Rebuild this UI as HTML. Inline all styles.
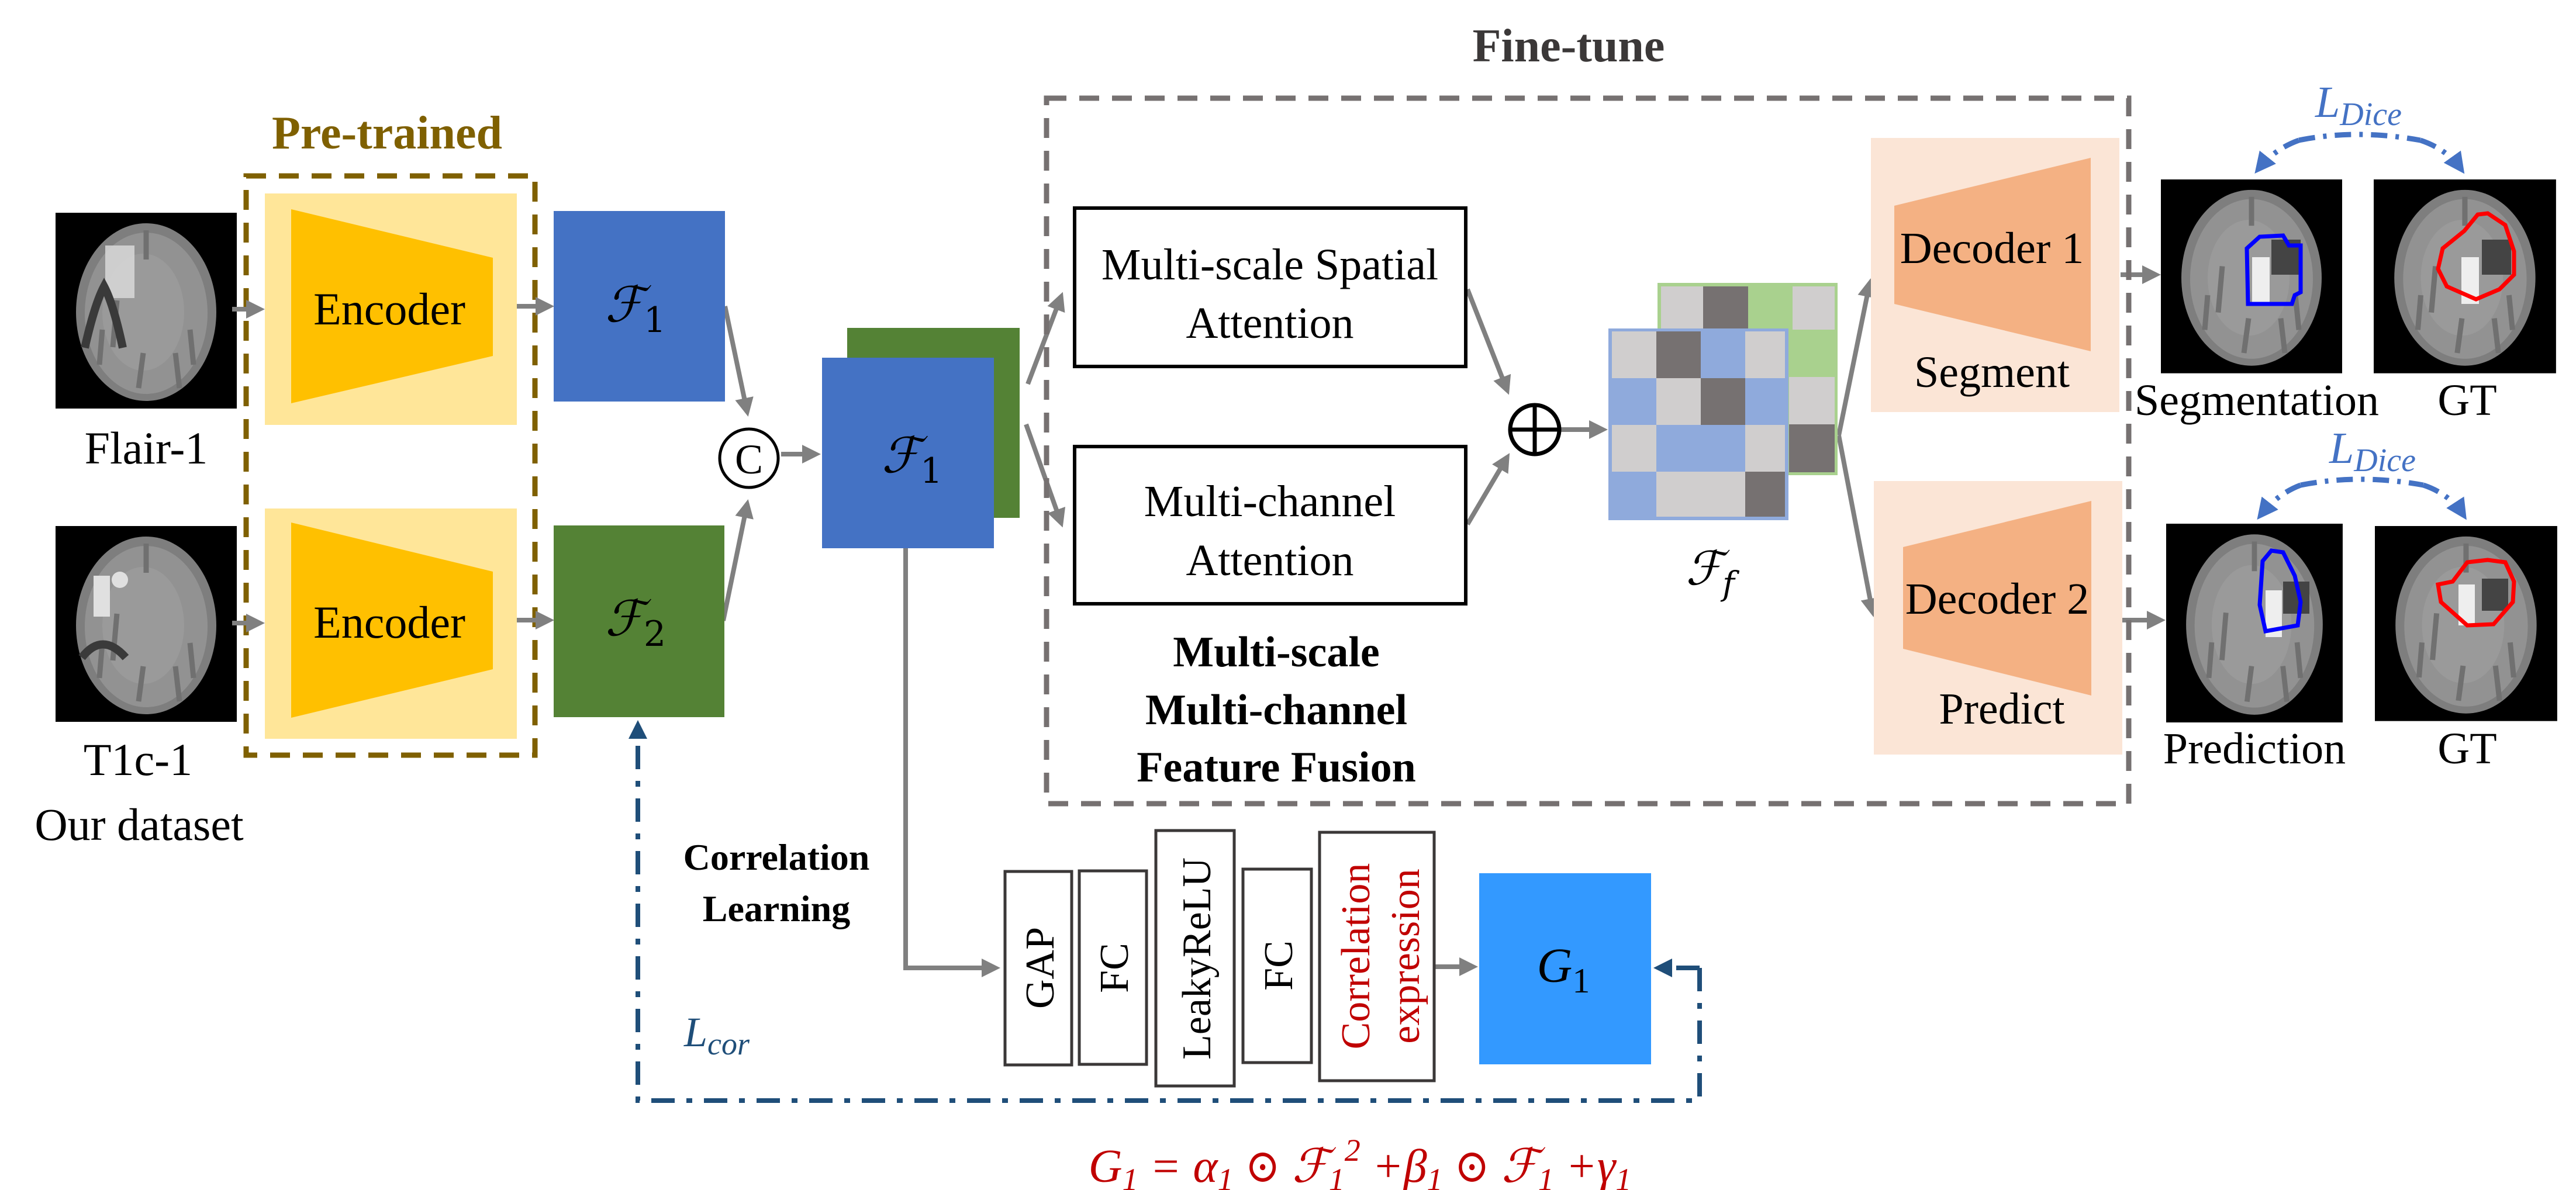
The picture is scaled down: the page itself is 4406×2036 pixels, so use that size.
<!DOCTYPE html>
<html><head><meta charset="utf-8"><style>
html,body{margin:0;padding:0;background:#fff;}
svg{display:block;font-family:"Liberation Serif","DejaVu Serif Condensed","DejaVu Serif",serif;}
svg text{font-family:"Liberation Serif","DejaVu Serif Condensed","DejaVu Serif",serif;}
svg text.dj, svg tspan.dj{font-family:"DejaVu Serif",serif;}
</style></head><body>
<svg width="4406" height="2036" viewBox="0 0 4406 2036" xmlns="http://www.w3.org/2000/svg">
<defs>
<marker id="ag" markerWidth="4" markerHeight="4" refX="3" refY="2" orient="auto" markerUnits="strokeWidth"><path d="M0,0 L4,2 L0,4 z" fill="#808080"/></marker>
<marker id="ab" markerWidth="4" markerHeight="4" refX="3" refY="2" orient="auto" markerUnits="strokeWidth"><path d="M0,0 L4,2 L0,4 z" fill="#1f4e79"/></marker>
<marker id="al" markerWidth="4" markerHeight="4" refX="3" refY="2" orient="auto" markerUnits="strokeWidth"><path d="M0,0 L4,2 L0,4 z" fill="#4472c4"/></marker>
<g id="brain">
<rect x="0" y="0" width="310" height="335" fill="#000"/>
<ellipse cx="155" cy="170" rx="120" ry="152" fill="#7e7e7e"/>
<ellipse cx="155" cy="172" rx="105" ry="138" fill="#929292"/>
<ellipse cx="150" cy="170" rx="70" ry="100" fill="#9a9a9a"/>
<path d="M105,150 L98,230 M150,240 L142,300 M205,240 L212,300 M155,30 L155,80 M80,200 L75,260 M230,200 L236,260" stroke="#707070" stroke-width="9" fill="none"/>
</g>
</defs>

<use href="#brain" x="95" y="364"/>
<rect x="180" y="420" width="50" height="90" fill="#d8d8d8" opacity="0.85"/>
<path d="M145,595 Q162,520 178,490 Q194,520 210,595" stroke="#3a3a3a" stroke-width="14" fill="none"/>
<use href="#brain" x="95" y="900"/>
<rect x="160" y="985" width="28" height="70" fill="#e0e0e0"/>
<circle cx="205" cy="992" r="14" fill="#e0e0e0"/>
<path d="M140,1125 Q175,1080 215,1125" stroke="#3a3a3a" stroke-width="14" fill="none"/>

<text x="250" y="793" font-size="78" text-anchor="middle">Flair-1</text>
<text x="236" y="1326" font-size="78" text-anchor="middle">T1c-1</text>
<text x="238" y="1437" font-size="78" text-anchor="middle">Our dataset</text>

<text x="662" y="254" font-size="80" font-weight="bold" text-anchor="middle" fill="#7f6000">Pre-trained</text>
<rect x="453" y="331" width="431" height="396" fill="#ffe699"/>
<rect x="453" y="870" width="431" height="394" fill="#ffe699"/>
<polygon points="498,358 843,441 843,609 498,690" fill="#ffc000"/>
<polygon points="498,894 843,978 843,1145 498,1228" fill="#ffc000"/>
<text x="666" y="555" font-size="78" text-anchor="middle">Encoder</text>
<text x="666" y="1091" font-size="78" text-anchor="middle">Encoder</text>
<rect x="421" y="301" width="494" height="991" fill="none" stroke="#7f6000" stroke-width="9" stroke-dasharray="34 22"/>

<g stroke="#808080" stroke-width="8" fill="none">
<line x1="397" y1="529" x2="445" y2="529" marker-end="url(#ag)"/>
<line x1="397" y1="1066" x2="445" y2="1066" marker-end="url(#ag)"/>
<line x1="884" y1="524" x2="940" y2="524" marker-end="url(#ag)"/>
<line x1="884" y1="1061" x2="940" y2="1061" marker-end="url(#ag)"/>
<line x1="1240" y1="524" x2="1278" y2="705" marker-end="url(#ag)"/>
<line x1="1237" y1="1062" x2="1278" y2="862" marker-end="url(#ag)"/>
<line x1="1336" y1="777" x2="1396" y2="777" marker-end="url(#ag)"/>
<line x1="1758" y1="657" x2="1815" y2="507" marker-end="url(#ag)"/>
<line x1="1755" y1="726" x2="1815" y2="895" marker-end="url(#ag)"/>
<line x1="2510" y1="495" x2="2578" y2="668" marker-end="url(#ag)"/>
<line x1="2510" y1="897" x2="2578" y2="782" marker-end="url(#ag)"/>
<line x1="2670" y1="735" x2="2742" y2="735" marker-end="url(#ag)"/>
<line x1="3145" y1="745" x2="3198" y2="484" marker-end="url(#ag)"/>
<line x1="3145" y1="745" x2="3203" y2="1048" marker-end="url(#ag)"/>
<line x1="3627" y1="470" x2="3688" y2="470" marker-end="url(#ag)"/>
<line x1="3621" y1="1061" x2="3696" y2="1061" marker-end="url(#ag)"/>
<polyline points="1549,938 1549,1656 1703,1656" marker-end="url(#ag)"/>
<line x1="2453" y1="1654" x2="2520" y2="1654" marker-end="url(#ag)"/>
</g>

<rect x="947" y="361" width="293" height="326" fill="#4472c4"/>
<rect x="947" y="899" width="292" height="328" fill="#548235"/>
<text x="1087" y="550" font-size="84" font-style="italic" text-anchor="middle" class="dj">ℱ<tspan font-size="60" dy="18" font-style="normal">1</tspan></text>
<text x="1087" y="1087" font-size="84" font-style="italic" text-anchor="middle" class="dj">ℱ<tspan font-size="60" dy="18" font-style="normal">2</tspan></text>
<circle cx="1281" cy="784" r="50" fill="#fff" stroke="#000" stroke-width="5"/>
<text x="1281" y="810" font-size="72" text-anchor="middle">C</text>

<rect x="1449" y="561" width="295" height="325" fill="#548235"/>
<rect x="1406" y="612" width="294" height="326" fill="#4472c4"/>
<text x="1560" y="808" font-size="84" font-style="italic" text-anchor="middle" class="dj">ℱ<tspan font-size="60" dy="18" font-style="normal">1</tspan></text>

<text x="2683" y="105" font-size="80" font-weight="bold" text-anchor="middle" fill="#3b3838">Fine-tune</text>
<rect x="1790" y="168" width="1851" height="1207" fill="none" stroke="#767171" stroke-width="9" stroke-dasharray="34 22"/>
<rect x="1838" y="356" width="669" height="271" fill="#fff" stroke="#000" stroke-width="6"/>
<rect x="1838" y="764" width="669" height="269" fill="#fff" stroke="#000" stroke-width="6"/>
<text x="2172" y="478" font-size="76" text-anchor="middle">Multi-scale Spatial</text>
<text x="2172" y="578" font-size="76" text-anchor="middle">Attention</text>
<text x="2172" y="883" font-size="76" text-anchor="middle">Multi-channel</text>
<text x="2172" y="984" font-size="76" text-anchor="middle">Attention</text>
<text x="2183" y="1140" font-size="74" font-weight="bold" text-anchor="middle">Multi-scale</text>
<text x="2183" y="1239" font-size="74" font-weight="bold" text-anchor="middle">Multi-channel</text>
<text x="2183" y="1337" font-size="74" font-weight="bold" text-anchor="middle">Feature Fusion</text>

<circle cx="2625" cy="735" r="42" fill="#fff" stroke="#000" stroke-width="7"/>
<line x1="2583" y1="735" x2="2667" y2="735" stroke="#000" stroke-width="7"/>
<line x1="2625" y1="693" x2="2625" y2="777" stroke="#000" stroke-width="7"/>

<rect x="2837" y="486" width="304" height="325" fill="#a9d18e" stroke="#a9d18e" stroke-width="4"/>
<rect x="2841" y="490" width="72" height="74" fill="#d0cece"/>
<rect x="2913" y="490" width="77" height="74" fill="#767171"/>
<rect x="3066" y="490" width="72" height="74" fill="#d0cece"/>
<rect x="3060" y="645" width="78" height="81" fill="#d0cece"/>
<rect x="3060" y="726" width="78" height="82" fill="#767171"/>
<rect x="2753" y="564" width="304" height="324" fill="#8faadc" stroke="#8faadc" stroke-width="4"/>
<rect x="2757" y="567" width="76" height="80" fill="#d0cece"/>
<rect x="2833" y="567" width="76" height="80" fill="#767171"/>
<rect x="2985" y="567" width="68" height="80" fill="#d0cece"/>
<rect x="2833" y="647" width="76" height="80" fill="#d0cece"/>
<rect x="2909" y="647" width="76" height="80" fill="#767171"/>
<rect x="2757" y="727" width="76" height="80" fill="#d0cece"/>
<rect x="2985" y="727" width="68" height="80" fill="#d0cece"/>
<rect x="2833" y="807" width="152" height="77" fill="#d0cece"/>
<rect x="2985" y="807" width="68" height="77" fill="#767171"/>
<text x="2925" y="1000" font-size="80" font-style="italic" text-anchor="middle" class="dj">ℱ<tspan font-size="56" dy="18">f</tspan></text>

<rect x="3200" y="236" width="425" height="469" fill="#fbe5d6"/>
<polygon points="3240,352 3576,270 3576,601 3240,520" fill="#f4b183"/>
<text x="3407" y="450" font-size="76" text-anchor="middle">Decoder 1</text>
<text x="3407" y="662" font-size="76" text-anchor="middle">Segment</text>
<rect x="3205" y="823" width="425" height="468" fill="#fbe5d6"/>
<polygon points="3255,936 3577,857 3577,1190 3255,1110" fill="#f4b183"/>
<text x="3416" y="1050" font-size="76" text-anchor="middle">Decoder 2</text>
<text x="3424" y="1238" font-size="76" text-anchor="middle">Predict</text>

<use href="#brain" transform="translate(3696,307) scale(1,0.99)"/>
<use href="#brain" transform="translate(4060,307) scale(1.006,0.99)"/>
<use href="#brain" transform="translate(3705,896) scale(0.974,1.015)"/>
<use href="#brain" transform="translate(4062,900) scale(1.006,0.996)"/>
<rect x="3852" y="440" width="30" height="80" fill="#eeeeee"/>
<rect x="3885" y="410" width="50" height="60" fill="#444"/>
<polygon points="3843,425 3865,405 3905,403 3915,420 3935,420 3935,500 3925,505 3920,520 3845,520" fill="none" stroke="#0000ff" stroke-width="7"/>
<rect x="4210" y="440" width="30" height="80" fill="#eeeeee"/>
<rect x="4245" y="410" width="50" height="60" fill="#444"/>
<polygon points="4238,367 4215,395 4178,425 4170,460 4185,490 4235,512 4275,495 4300,470 4300,430 4285,385 4255,365" fill="none" stroke="#ff0000" stroke-width="7"/>
<rect x="3875" y="1010" width="28" height="80" fill="#eeeeee"/>
<rect x="3905" y="995" width="45" height="55" fill="#444"/>
<polygon points="3870,960 3885,942 3905,945 3925,985 3935,1030 3930,1070 3875,1080 3865,1035" fill="none" stroke="#0000ff" stroke-width="7"/>
<rect x="4205" y="1000" width="28" height="70" fill="#eeeeee"/>
<rect x="4245" y="990" width="45" height="55" fill="#444"/>
<polygon points="4255,958 4220,962 4195,995 4170,1000 4175,1030 4220,1070 4265,1068 4298,1030 4300,995 4285,962" fill="none" stroke="#ff0000" stroke-width="7"/>

<text x="3860" y="710" font-size="76" text-anchor="middle">Segmentation</text>
<text x="4220" y="710" font-size="76" text-anchor="middle">GT</text>
<text x="3856" y="1306" font-size="76" text-anchor="middle">Prediction</text>
<text x="4220" y="1306" font-size="76" text-anchor="middle">GT</text>

<text x="3960" y="200" font-size="76" font-style="italic" fill="#4472c4">L<tspan font-size="56" dy="14">Dice</tspan></text>
<text x="3984" y="792" font-size="76" font-style="italic" fill="#4472c4">L<tspan font-size="56" dy="14">Dice</tspan></text>
<g stroke="#4472c4" stroke-width="9" fill="none" stroke-dasharray="28 14 6 14">
<path d="M3932,240 Q4030,220 4140,240"/>
<path d="M3932,240 Q3890,255 3862,290" marker-end="url(#al)"/>
<path d="M4140,240 Q4185,255 4210,290" marker-end="url(#al)"/>
<path d="M3935,830 Q4035,810 4145,830"/>
<path d="M3935,830 Q3895,845 3866,882" marker-end="url(#al)"/>
<path d="M4145,830 Q4190,845 4214,882" marker-end="url(#al)"/>
</g>

<text x="1328" y="1488" font-size="64" font-weight="bold" text-anchor="middle">Correlation</text>
<text x="1328" y="1576" font-size="64" font-weight="bold" text-anchor="middle">Learning</text>
<g fill="#fff" stroke="#3b3838" stroke-width="5">
<rect x="1719" y="1491" width="114" height="331"/>
<rect x="1846" y="1490" width="115" height="331"/>
<rect x="1977" y="1421" width="134" height="437"/>
<rect x="2126" y="1487" width="117" height="331"/>
<rect x="2257" y="1424" width="196" height="425"/>
</g>
<g font-size="70">
<text transform="translate(1802,1656) rotate(-90)" text-anchor="middle">GAP</text>
<text transform="translate(1929,1656) rotate(-90)" text-anchor="middle">FC</text>
<text transform="translate(2070,1640) rotate(-90)" text-anchor="middle">LeakyReLU</text>
<text transform="translate(2210,1652) rotate(-90)" text-anchor="middle">FC</text>
<text transform="translate(2342,1636) rotate(-90)" text-anchor="middle" fill="#c00000">Correlation</text>
<text transform="translate(2427,1636) rotate(-90)" text-anchor="middle" fill="#c00000">expression</text>
</g>
<rect x="2530" y="1494" width="294" height="327" fill="#3399ff"/>
<text x="2674" y="1680" font-size="84" font-style="italic" text-anchor="middle">G<tspan font-size="60" dy="18" font-style="normal">1</tspan></text>

<g stroke="#1f4e79" stroke-width="8" fill="none" stroke-dasharray="40 20 10 20">
<polyline points="2907,1656 2907,1883 1091,1883 1091,1240" marker-end="url(#ab)"/>
<line x1="2907" y1="1656" x2="2836" y2="1656" marker-end="url(#ab)"/>
</g>
<text x="1170" y="1790" font-size="72" font-style="italic" fill="#1f4e79">L<tspan font-size="54" dy="14">cor</tspan></text>

<text x="2326" y="2022" font-size="80" font-style="italic" text-anchor="middle" fill="#c00000">G<tspan font-size="54" dy="14">1</tspan><tspan dy="-14"> = α</tspan><tspan font-size="54" dy="14">1</tspan><tspan dy="-14" font-style="normal"> ⊙ </tspan><tspan class="dj">ℱ</tspan><tspan font-size="54" dy="14">1</tspan><tspan font-size="54" dy="-50">2</tspan><tspan dy="36"> +β</tspan><tspan font-size="54" dy="14">1</tspan><tspan dy="-14" font-style="normal"> ⊙ </tspan><tspan class="dj">ℱ</tspan><tspan font-size="54" dy="14">1</tspan><tspan dy="-14"> +γ</tspan><tspan font-size="54" dy="14">1</tspan></text>
</svg>
</body></html>
